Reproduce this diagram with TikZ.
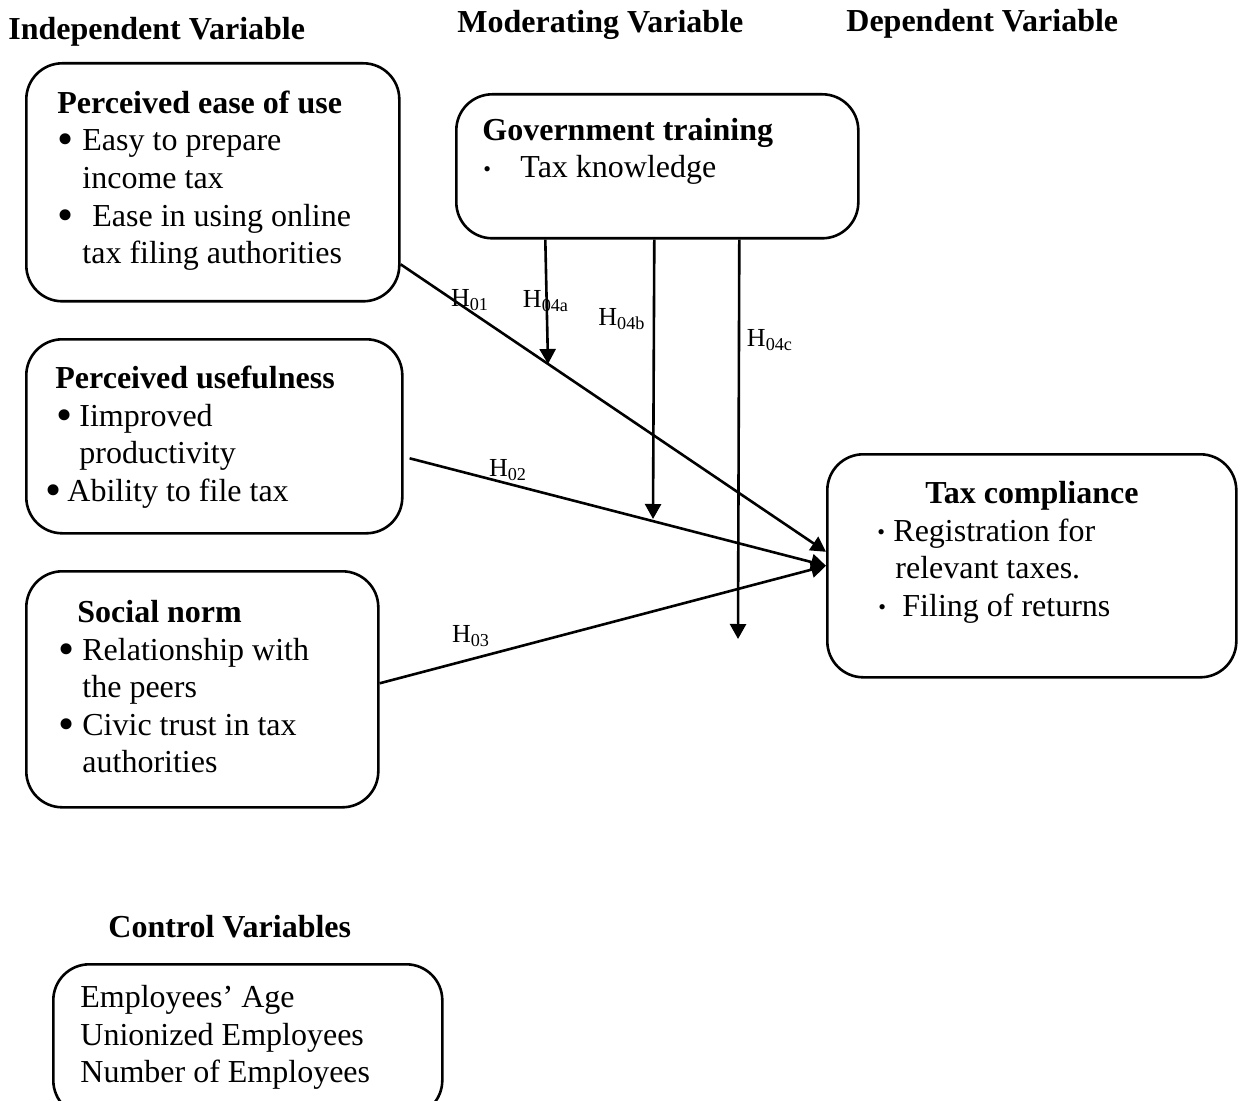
\documentclass[tikz,border=0pt]{standalone}
\usepackage{fontspec}
\setmainfont{Liberation Serif}
\usetikzlibrary{arrows.meta, positioning}
\newcommand{\bigdot}{\raisebox{-2pt}{\fontsize{23}{18}\selectfont •}}
\newcommand{\smalldot}{\raisebox{0.8pt}{\fontsize{11}{18}\selectfont •}}
\newcommand{\bitem}[3]{\hspace*{#1}\rlap{\bigdot}\hspace*{\dimexpr#2-#1\relax}#3}
\newcommand{\sitem}[3]{\hspace*{#1}\rlap{\smalldot}\hspace*{\dimexpr#2-#1\relax}#3}
\newcommand{\firstline}{\rule{0pt}{12pt}}

\begin{document}
\begin{tikzpicture}[x=0.5pt, y=-0.5pt,
    % boxes and texts
    box/.style={draw, line width=1.3pt, rounded corners=18pt, anchor=north west, inner sep=0pt},
    txt/.style={anchor=north west, inner sep=0pt, align=left, font=\fontsize{16}{18.8}\selectfont},
    head/.style={anchor=base west, inner sep=0pt, font=\fontsize{16}{18.8}\selectfont\bfseries},
    hlab/.style={inner sep=0pt, font=\fontsize{13}{15}\selectfont},
    arr/.style={line width=1.3pt, -{Triangle[length=7.5pt, width=8pt]}}]
\useasboundingbox (0,0) rectangle (1240,1101);

% Headings
\node[head] (hind) at (8,40) {Independent Variable};
\node[head] (hmod) at (457,33) {Moderating Variable};
\node[head] (hdep) at (846,32) {Dependent Variable};
\node[head] (hctl) at (108,937) {Control Variables};

% Independent variables
\node[box, minimum width=186.5pt, minimum height=119pt] (peou) at (25,62) {};
\node[txt] (peou-t) at ([xshift=16pt, yshift=-13.5pt]peou.north west) {\firstline\textbf{Perceived ease of use}\\
  \bitem{0pt}{12.5pt}{Easy to prepare}\\ \hspace*{12.5pt}income tax\\
  \bitem{0pt}{17.5pt}{Ease in using online}\\ \hspace*{12.5pt}tax filing authorities};

\node[box, minimum width=188pt, minimum height=97pt] (pu) at (25,338) {};
\node[txt] (pu-t) at ([xshift=12.5pt, yshift=-13pt]pu.north west) {\firstline\hspace*{2.5pt}\textbf{Perceived usefulness}\\
  \bitem{3pt}{14.5pt}{Iimproved}\\ \hspace*{14.5pt}productivity\\
  \bitem{-2.5pt}{8.5pt}{Ability to file tax}};

\node[box, minimum width=176pt, minimum height=118pt] (sn) at (25,570) {};
\node[txt] (sn-t) at ([xshift=16.5pt, yshift=-14pt]sn.north west) {\firstline\hspace*{9.5pt}\textbf{Social norm}\\
  \bitem{0pt}{12pt}{Relationship with}\\ \hspace*{12pt}the peers\\
  \bitem{0pt}{12pt}{Civic trust in tax}\\ \hspace*{12pt}authorities};

% Moderating variable
\node[box, minimum width=201pt, minimum height=72pt] (gt) at (455,93) {};
\node[txt] (gt-t) at ([xshift=13.5pt, yshift=-11.5pt]gt.north west) {\firstline\textbf{Government training}\\
  \sitem{0.5pt}{19pt}{Tax knowledge}};

% Dependent variable
\node[box, minimum width=204.5pt, minimum height=111.5pt] (tc) at (826,453) {};
\node[txt] (tc-t) at ([xshift=25.5pt, yshift=-13pt]tc.north west) {\firstline\hspace*{24pt}\textbf{Tax compliance}\\
  \sitem{0pt}{8pt}{Registration for}\\ \hspace*{9pt}relevant taxes.\\
  \sitem{0.5pt}{12.5pt}{Filing of returns}};

% Control variables
\node[box, minimum width=194.5pt, minimum height=76pt] (cv) at (52,963) {};
\node[txt] (cv-t) at ([xshift=14pt, yshift=-10pt]cv.north west) {\firstline Employees’ Age\\ Unionized Employees\\ Number of Employees};

% Free ends of the moderating arrows
\coordinate (ha) at (548,364);
\coordinate (hb) at (653,519);
\coordinate (hc) at (738,639);

% Hypotheses
\draw[arr] ([yshift=-41pt]peou.east) -- ([yshift=7pt]tc.west);
\draw[arr] ([xshift=3pt, yshift=-11pt]pu.east) -- (tc.west);
\draw[arr] ([yshift=3pt]sn.east) -- (tc.west);
\draw[arr] ([xshift=-56pt]gt.south) -- (ha);
\draw[arr] ([xshift=-1.5pt]gt.south) -- (hb);
\draw[arr] ([xshift=41pt]gt.south) -- (hc);

\node[hlab] (l01) at (470,300) {H\textsubscript{01}};
\node[hlab] (l4a) at (546,301) {H\textsubscript{04a}};
\node[hlab] (l4b) at (622,319) {H\textsubscript{04b}};
\node[hlab] (l4c) at (770,340) {H\textsubscript{04c}};
\node[hlab] (l02) at (508,470) {H\textsubscript{02}};
\node[hlab] (l03) at (471,636) {H\textsubscript{03}};

\end{tikzpicture}
\end{document}
